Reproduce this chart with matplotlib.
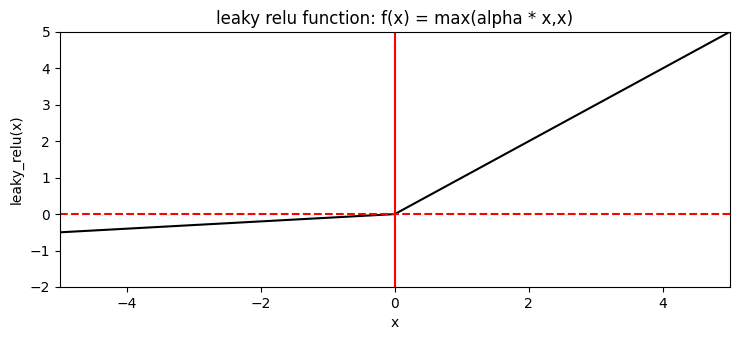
import matplotlib
matplotlib.use("Agg")
import matplotlib.pyplot as plt

# data (leaky relu, alpha = 0.1)
x_vals = [-5, 0, 5]
y_vals = [-0.5, 0, 5]

fig, ax = plt.subplots(figsize=(7.4, 3.4), dpi=100)
fig.subplots_adjust(left=0.081, right=0.986, top=0.906, bottom=0.156)

ax.plot(x_vals, y_vals, color="black")
ax.axvline(0, color="red")
ax.axhline(0, color="red", linestyle="--")

ax.set_xlim(-5, 5)
ax.set_ylim(-2, 5)
ax.set_title("leaky relu function: f(x) = max(alpha * x,x)")
ax.set_xlabel("x")
ax.set_ylabel("leaky_relu(x)")

fig.savefig("out.png", dpi=100)
